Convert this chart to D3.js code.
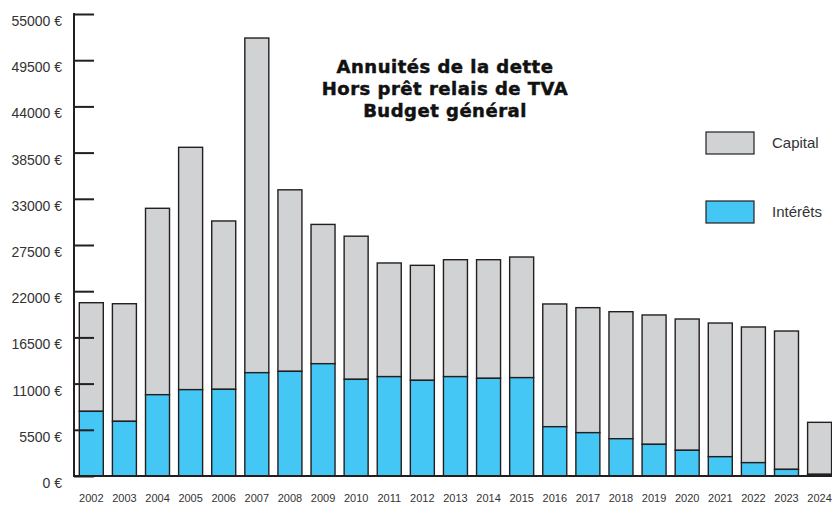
<!DOCTYPE html>
<html><head><meta charset="utf-8">
<script src="https://cdn.jsdelivr.net/npm/d3@7"></script>
<style>body{margin:0;background:#fff}svg{display:block}</style>
</head><body>
<svg id="c" width="832" height="506"></svg>
<script>
const years = ["2002","2003","2004","2005","2006","2007","2008","2009","2010","2011","2012","2013","2014","2015","2016","2017","2018","2019","2020","2021","2022","2023","2024"];
const totals = [20630,20510,31870,39130,30360,52140,34070,29950,28550,25360,25080,25750,25750,26070,20480,20040,19560,19170,18690,18210,17740,17260,6390];
const interets = [7700,6510,9680,10280,10320,12300,12460,13370,11510,11830,11390,11830,11630,11710,5870,5160,4440,3770,3060,2300,1590,790,200];
const capital = totals.map((t,i)=>t-interets[i]);
const yTicks = [0,5500,11000,16500,22000,27500,33000,38500,44000,49500,55000];
const seriesNames = ["Capital","Intérêts"];
const titleLines = ["Annuités de la dette","Hors prêt relais de TVA","Budget général"];

const colors = {"Capital":"#d1d2d4","Intérêts":"#44c7f4"};
const ink = "#231f20";
const svg = d3.select("#c");
const x = d3.scaleBand().domain(years).range([79.3, 831.6]).paddingInner(0.275).paddingOuter(0);
const y = d3.scaleLinear().domain([0,55000]).range([476,14]);
const axisX = 74;

// bars
const data = years.map((yr,i)=>({yr, int:interets[i], cap:capital[i]}));
const g = svg.append("g");
g.selectAll("rect.cap").data(data).enter().append("rect")
  .attr("x",d=>x(d.yr)).attr("width",x.bandwidth())
  .attr("y",d=>y(d.int+d.cap)).attr("height",d=>y(d.int)-y(d.int+d.cap))
  .attr("fill",colors["Capital"]).attr("stroke",ink).attr("stroke-width",1.4);
g.selectAll("rect.int").data(data).enter().append("rect")
  .attr("x",d=>x(d.yr)).attr("width",x.bandwidth())
  .attr("y",d=>y(d.int)).attr("height",d=>y(0)-y(d.int))
  .attr("fill",colors["Intérêts"]).attr("stroke",ink).attr("stroke-width",1.4);

// y axis
const yAxis = d3.axisRight(y).tickValues(yTicks).tickSize(20).tickFormat(()=> "");
const ya = svg.append("g").attr("transform",`translate(${axisX},0)`).call(yAxis);
ya.select(".domain").remove();
ya.selectAll(".tick line").attr("stroke",ink).attr("stroke-width",2);
svg.append("line").attr("x1",axisX).attr("x2",axisX).attr("y1",y(55000)-1).attr("y2",y(0)+1)
  .attr("stroke",ink).attr("stroke-width",2);
svg.selectAll("text.yl").data(yTicks).enter().append("text")
  .attr("x",62).attr("y",d=>y(d)+12).attr("text-anchor","end")
  .attr("font-family","Liberation Sans, Arial, sans-serif").attr("font-size",14).attr("fill","#333")
  .text(d=>d3.format("d")(d)+" €");

// baseline
svg.append("line").attr("x1",axisX).attr("x2",832).attr("y1",y(0)).attr("y2",y(0))
  .attr("stroke",ink).attr("stroke-width",2);

// x labels
const xAxis = d3.axisBottom(x).tickSize(0).tickPadding(0);
const xa = svg.append("g").attr("transform","translate(0,494)").call(xAxis);
xa.select(".domain").remove();
xa.selectAll("text").attr("font-family","Liberation Sans, Arial, sans-serif").attr("font-size",11).attr("fill","#333").attr("dy","0.71em");

// title
svg.append("g").selectAll("text").data(titleLines).enter().append("text")
  .attr("x",445).attr("y",(d,i)=>73+i*22).attr("text-anchor","middle")
  .attr("font-family","DejaVu Sans, sans-serif").attr("font-weight","bold").attr("font-size",18)
  .attr("letter-spacing",0.5).attr("fill","#111").attr("stroke","#111").attr("stroke-width",0.5).text(d=>d);

// legend
const lg = svg.append("g").selectAll("g").data(seriesNames).enter().append("g")
  .attr("transform",(d,i)=>`translate(706,${132+i*69})`);
lg.append("rect").attr("width",48).attr("height",22).attr("fill",d=>colors[d]).attr("stroke",ink).attr("stroke-width",1.2);
lg.append("text").attr("x",66).attr("y",11).attr("dy","0.35em")
  .attr("font-family","Liberation Sans, Arial, sans-serif").attr("font-size",15).attr("fill","#333").text(d=>d);
</script>
</body></html>
